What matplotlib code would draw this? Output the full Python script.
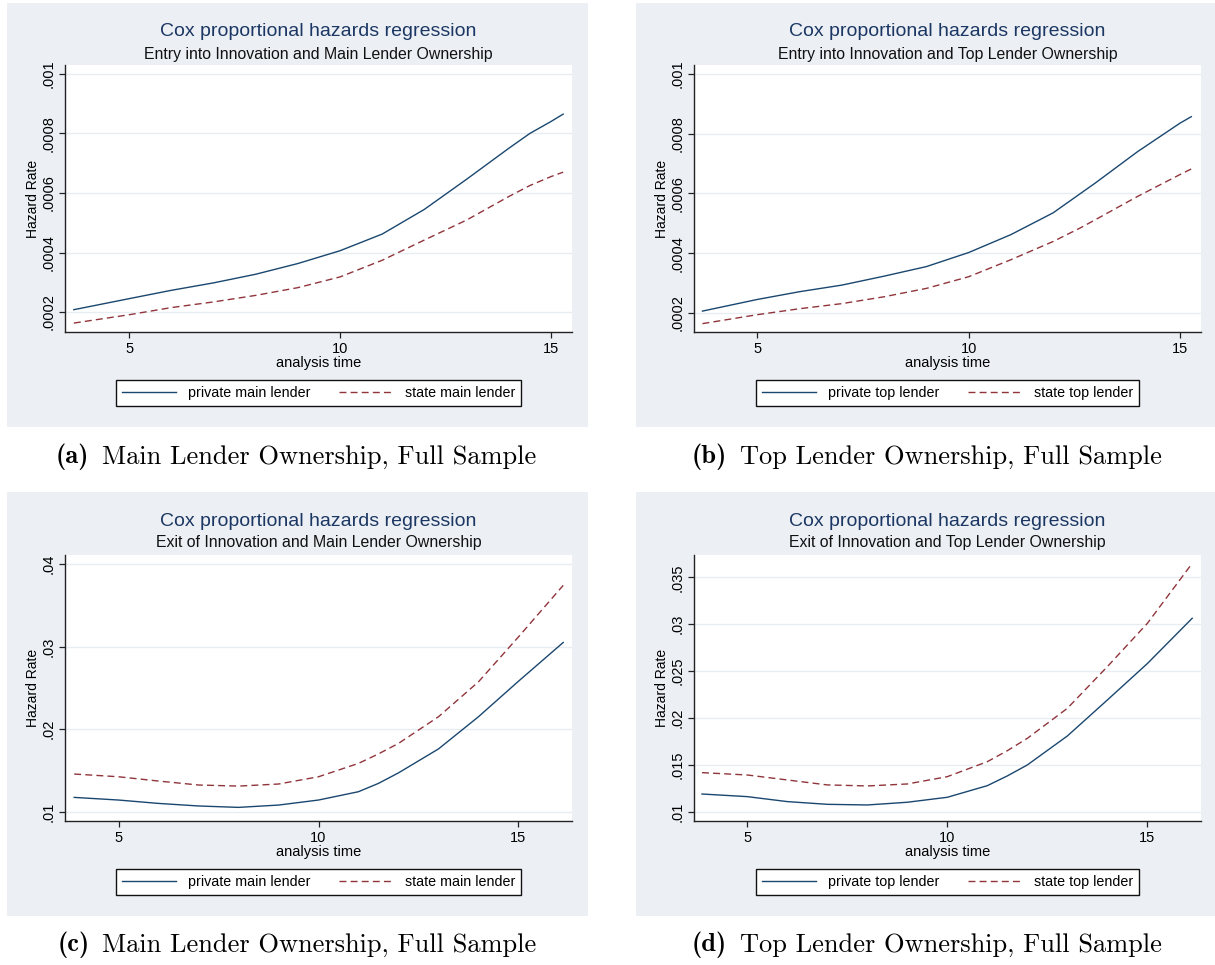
import matplotlib
matplotlib.use('Agg')
import matplotlib.pyplot as plt
from matplotlib.patches import Rectangle
from matplotlib.lines import Line2D

W, H = 1215, 965
SANS = ['Liberation Sans', 'DejaVu Sans']
NAVY = '#1A476F'
TITLE_NAVY = '#1C3763'
MAROON = '#90353B'
BG = '#ECF0F5'

# ---- data ----
t_entry_main = [3.69, 5, 6, 7, 8, 9, 10, 11, 12, 13, 14, 14.5, 15, 15.29]
entry_main_private = [0.000208, 0.000245, 0.000273, 0.000298, 0.000327, 0.000363, 0.000406,
                      0.000462, 0.000545, 0.000646, 0.00075, 0.0008, 0.00084, 0.000865]
entry_main_state = [0.000163, 0.000191, 0.000215, 0.000234, 0.000256, 0.000282, 0.000318,
                    0.000374, 0.000442, 0.000509, 0.000588, 0.000625, 0.000655, 0.00067]

t_entry_top = [3.70, 5, 6, 7, 8, 9, 10, 11, 12, 12.65, 13, 14, 15, 15.27]
entry_top_private = [0.000206, 0.000245, 0.000271, 0.000293, 0.000323, 0.000355, 0.000402,
                     0.000462, 0.000535, 0.0006, 0.000635, 0.00074, 0.000835, 0.000857]
entry_top_state = [0.000164, 0.000194, 0.000214, 0.000231, 0.000254, 0.000282, 0.000321,
                   0.000378, 0.000439, 0.000485, 0.000512, 0.00059, 0.000663, 0.000682]

t_exit_main = [3.89, 5, 6, 7, 8, 9, 10, 11, 11.5, 12, 13, 14, 15, 16.12]
exit_main_private = [0.01173, 0.01141, 0.0110, 0.01069, 0.01052, 0.0108, 0.01141, 0.01242,
                     0.01343, 0.0147, 0.0176, 0.0215, 0.0258, 0.0305]
exit_main_state = [0.01456, 0.01423, 0.01371, 0.01323, 0.0131, 0.01335, 0.01423, 0.01585,
                   0.017, 0.01827, 0.0215, 0.02573, 0.03117, 0.03742]

t_exit_top = [3.87, 5, 6, 7, 8, 9, 10, 11, 11.5, 12, 13, 14, 15, 16.12]
exit_top_private = [0.01188, 0.0116, 0.01107, 0.01078, 0.01071, 0.011, 0.01153, 0.01277,
                    0.01381, 0.01498, 0.01807, 0.02191, 0.0258, 0.03063]
exit_top_state = [0.01416, 0.01391, 0.01338, 0.01285, 0.01274, 0.01295, 0.01373, 0.01533,
                  0.0165, 0.01782, 0.02102, 0.02547, 0.03009, 0.03649]

xticks = [5, 10, 15]
xtick_labels = ['5', '10', '15']
yticks_entry = [0.0002, 0.0004, 0.0006, 0.0008, 0.001]
ytick_labels_entry = ['.0002', '.0004', '.0006', '.0008', '.001']
yticks_exit_main = [0.01, 0.02, 0.03, 0.04]
ytick_labels_exit_main = ['.01', '.02', '.03', '.04']
yticks_exit_top = [0.01, 0.015, 0.02, 0.025, 0.03, 0.035]
ytick_labels_exit_top = ['.01', '.015', '.02', '.025', '.03', '.035']

main_title = 'Cox proportional hazards regression'
subtitles = ['Entry into Innovation and Main Lender Ownership',
             'Entry into Innovation and Top Lender Ownership',
             'Exit of Innovation and Main Lender Ownership',
             'Exit of Innovation and Top Lender Ownership']
legend_main = ['private main lender', 'state main lender']
legend_top = ['private top lender', 'state top lender']
captions = [('(a)', 'Main Lender Ownership, Full Sample'),
            ('(b)', 'Top Lender Ownership, Full Sample'),
            ('(c)', 'Main Lender Ownership, Full Sample'),
            ('(d)', 'Top Lender Ownership, Full Sample')]

fig = plt.figure(figsize=(W / 100, H / 100), dpi=100)
renderer = fig.canvas.get_renderer()


def px_box(x0, y0, x1, y1):
    return [x0 / W, 1 - y1 / H, (x1 - x0) / W, (y1 - y0) / H]


def draw_caption(tag, text, cx, cy, fs=19, gap=13):
    t1 = fig.text(0, 1 - cy / H, tag, family='cmb10', fontsize=fs, ha='left', va='center')
    t2 = fig.text(0, 1 - cy / H, text, family='cmr10', fontsize=fs, ha='left', va='center')
    w1 = t1.get_window_extent(renderer).width
    w2 = t2.get_window_extent(renderer).width
    left = cx - (w1 + gap + w2) / 2
    t1.set_x(left / W)
    t2.set_x((left + w1 + gap) / W)


def draw_panel(bg, plot, t, y_priv, y_state, yticks, ylabels, xlim, ylim,
               subtitle, labels, caption, cap_xy):
    fig.add_artist(Rectangle((bg[0] / W, 1 - bg[3] / H), (bg[2] - bg[0]) / W,
                             (bg[3] - bg[1]) / H, transform=fig.transFigure,
                             facecolor=BG, edgecolor='none', zorder=-1))
    ax = fig.add_axes(px_box(*plot))
    ax.set_facecolor('white')
    for yv in yticks:
        ax.axhline(yv, color='#E8EDF2', lw=1.0, zorder=1)
    ax.plot(t, y_priv, color=NAVY, lw=1.0, zorder=3)
    ax.plot(t, y_state, color=MAROON, lw=1.0, dashes=(5, 3), zorder=3)
    ax.set_xlim(*xlim)
    ax.set_ylim(*ylim)
    ax.set_xticks(xticks)
    ax.set_xticklabels(xtick_labels, family=SANS, fontsize=10.5)
    ax.set_yticks(yticks)
    ax.set_yticklabels(ylabels, family=SANS, fontsize=10.5, rotation=90, va='center')
    ax.tick_params(length=4, width=0.9, color='#222222', pad=3)
    for s in ['top', 'right']:
        ax.spines[s].set_visible(False)
    for s in ['left', 'bottom']:
        ax.spines[s].set_color('#222222')
        ax.spines[s].set_linewidth(1.0)
    ax.set_xlabel('analysis time', family=SANS, fontsize=10.5, labelpad=0)
    ax.set_ylabel('Hazard Rate', family=SANS, fontsize=10, labelpad=1)

    cx = (plot[0] + plot[2]) / 2
    fig.text(cx / W, 1 - (bg[1] + 29) / H, main_title, family=SANS, fontsize=14,
             color=TITLE_NAVY, ha='center', va='center')
    fig.text(cx / W, 1 - (bg[1] + 51) / H, subtitle, family=SANS, fontsize=11.4,
             color='#111111', ha='center', va='center')

    handles = [Line2D([], [], color=NAVY, lw=1.0),
               Line2D([], [], color=MAROON, lw=1.0, dashes=(5, 3))]
    leg = fig.legend(handles, labels, loc='center', ncol=2,
                     bbox_to_anchor=(cx / W, 1 - (bg[1] + 390) / H),
                     prop={'family': SANS, 'size': 10.3}, frameon=True, fancybox=False,
                     edgecolor='#111111', framealpha=1, borderpad=0.45,
                     handlelength=3.8, handletextpad=0.8, columnspacing=2.0)
    leg.get_frame().set_linewidth(1.0)

    draw_caption(caption[0], caption[1], cap_xy[0], cap_xy[1])


draw_panel((7, 3, 588, 427), (65, 65, 572, 332), t_entry_main,
           entry_main_private, entry_main_state, yticks_entry, ytick_labels_entry,
           (3.48, 15.5), (0.000133, 0.00103), subtitles[0], legend_main,
           captions[0], (296, 457))
draw_panel((636, 3, 1215, 427), (694, 65, 1201, 332), t_entry_top,
           entry_top_private, entry_top_state, yticks_entry, ytick_labels_entry,
           (3.50, 15.5), (0.000136, 0.00103), subtitles[1], legend_top,
           captions[1], (927, 457))
draw_panel((7, 492, 588, 916), (65, 555, 572, 821), t_exit_main,
           exit_main_private, exit_main_state, yticks_exit_main, ytick_labels_exit_main,
           (3.66, 16.34), (0.00887, 0.0411), subtitles[2], legend_main,
           captions[2], (297, 945))
draw_panel((636, 492, 1215, 916), (694, 555, 1201, 821), t_exit_top,
           exit_top_private, exit_top_state, yticks_exit_top, ytick_labels_exit_top,
           (3.67, 16.34), (0.0090, 0.03738), subtitles[3], legend_top,
           captions[3], (927, 945))

fig.savefig('out.png', dpi=100)
